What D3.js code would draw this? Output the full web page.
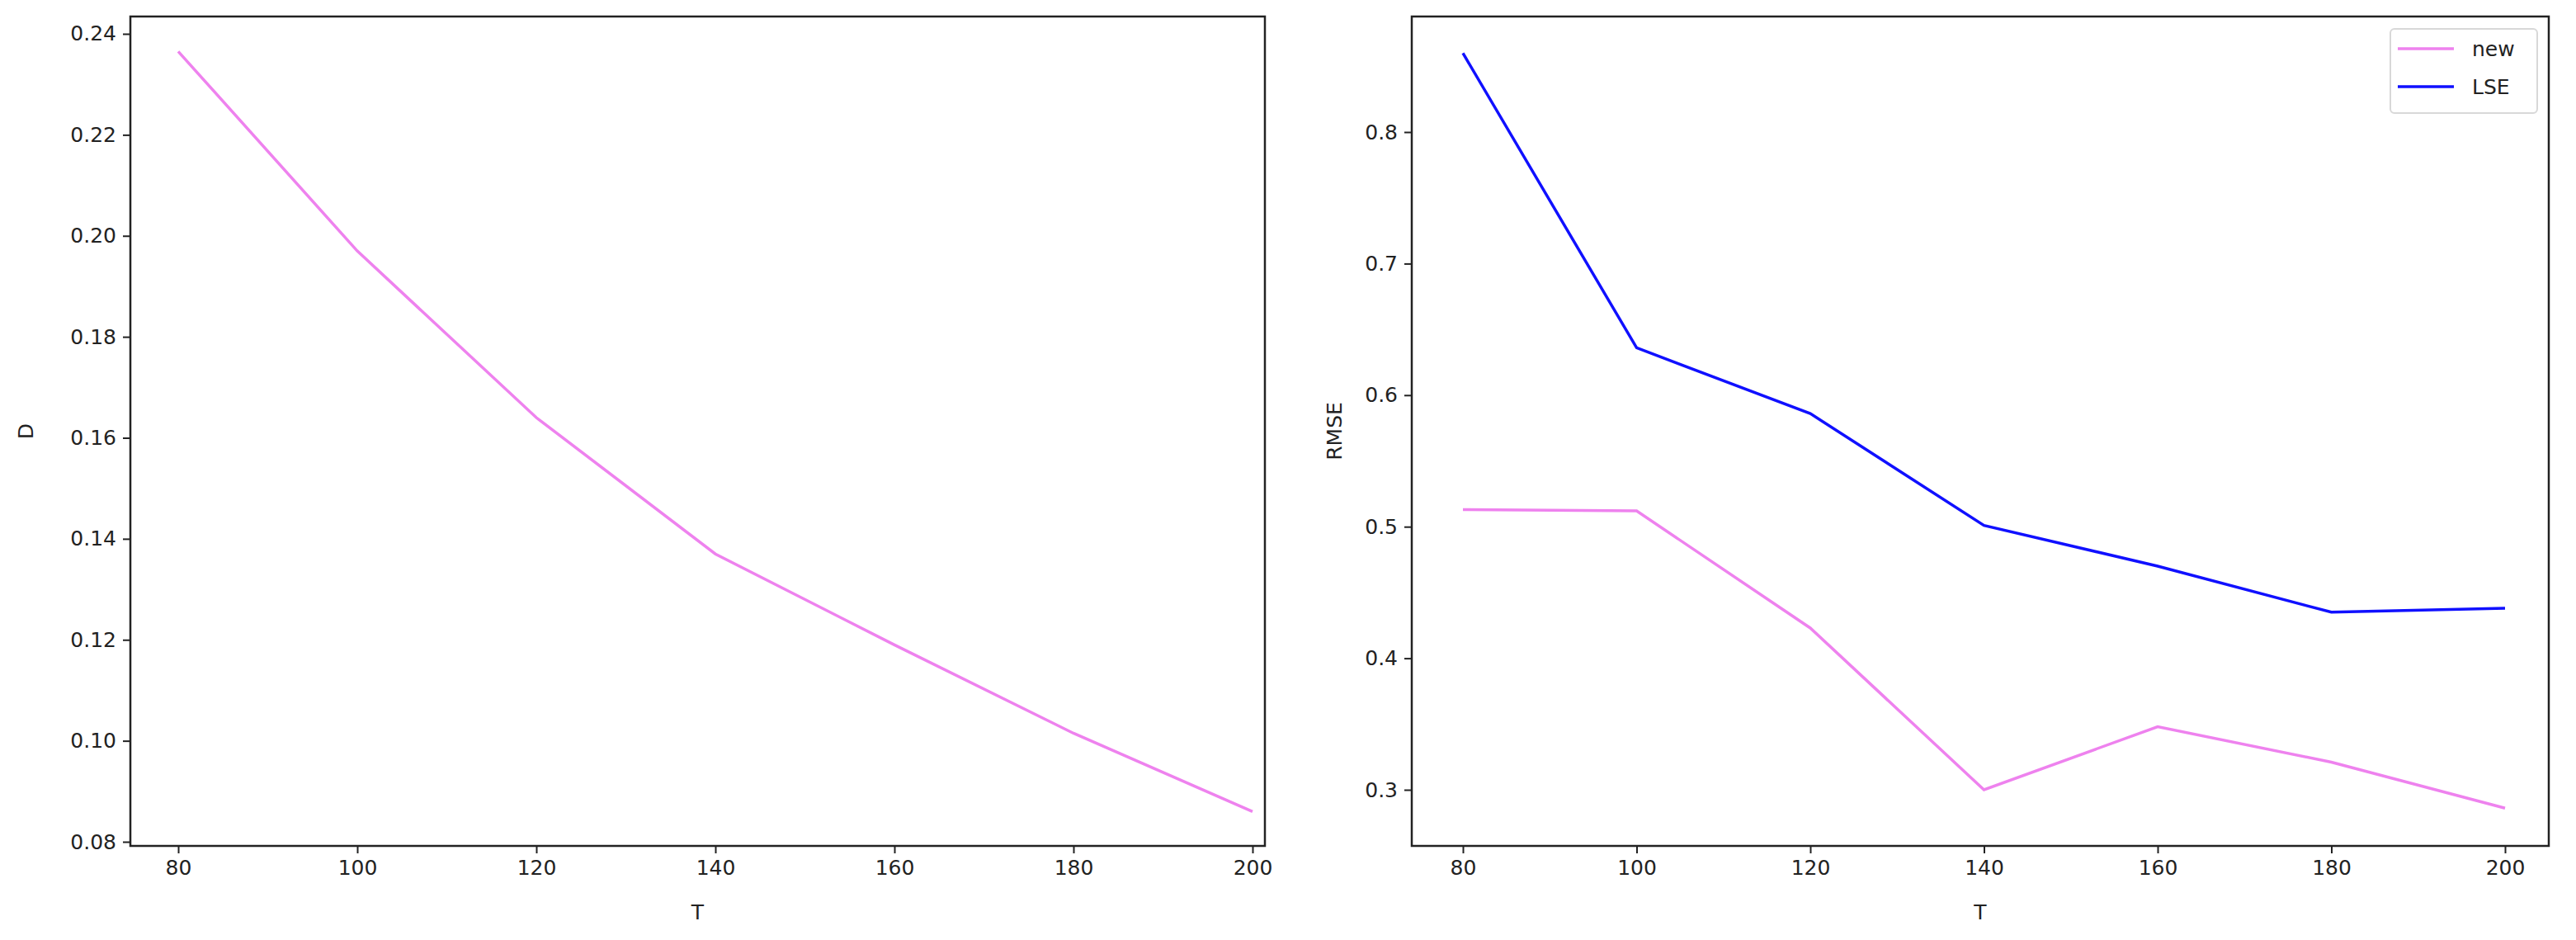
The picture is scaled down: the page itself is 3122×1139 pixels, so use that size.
<!DOCTYPE html><html><head><meta charset="utf-8"><script src="https://cdn.jsdelivr.net/npm/d3@7"></script>
<style>body{margin:0;background:#fff}text{font-family:"DejaVu Sans";fill:#222}</style></head><body>
<svg id="c" width="3122" height="1139"></svg>
<script>
const T=[80,100,120,140,160,180,200];
const D=[0.2365,0.197,0.164,0.137,0.119,0.1015,0.086];
const rmseNew=[0.513,0.512,0.423,0.300,0.348,0.321,0.286];
const rmseLSE=[0.860,0.636,0.586,0.501,0.470,0.435,0.438];
const dTicks=[0.08,0.10,0.12,0.14,0.16,0.18,0.20,0.22,0.24];
const rTicks=[0.3,0.4,0.5,0.6,0.7,0.8];
const svg=d3.select("#c");
function panel(x0,x1,xd,yd,ticks,fmt,ylab,ylx,series){
  const top=20,bot=1025;
  const x=d3.scaleLinear().domain(xd).range([x0,x1]);
  const y=d3.scaleLinear().domain(yd).range([bot,top]);
  const g=svg.append("g");
  const ax=g.append("g").attr("transform",`translate(0,${bot})`).call(d3.axisBottom(x).tickValues(T).tickSize(9).tickPadding(8));
  const ay=g.append("g").attr("transform",`translate(${x0},0)`).call(d3.axisLeft(y).tickValues(ticks).tickFormat(fmt).tickSize(9).tickPadding(8));
  [ax,ay].forEach(a=>{a.selectAll("text").attr("font-size",25).style("font-family","DejaVu Sans");a.selectAll("line").attr("stroke","#222").attr("stroke-width",2);a.select(".domain").remove();});
  series.forEach(s=>g.append("path").datum(s.v).attr("fill","none").attr("stroke",s.c).attr("stroke-width",3.5)
    .attr("d",d3.line().x((d,i)=>x(T[i])).y(d=>y(d))));
  g.append("rect").attr("x",x0).attr("y",top).attr("width",x1-x0).attr("height",bot-top).attr("fill","none").attr("stroke","#222").attr("stroke-width",2.5);
  g.append("text").attr("x",(x0+x1)/2).attr("y",1114).attr("text-anchor","middle").attr("font-size",25).text("T");
  g.append("text").attr("transform",`translate(${ylx},${(top+bot)/2}) rotate(-90)`).attr("text-anchor","middle").attr("font-size",25).text(ylab);
  return {x,y};
}
const lx=d3.scaleLinear().domain([216,1518]).range([80,200]);
panel(158,1533,[lx(158),lx(1533)],[0.08-5/6120,0.24+21/6120],dTicks,d3.format(".2f"),"D",40,[{v:D,c:"#ee82ee"}]);
const rx=d3.scaleLinear().domain([1773,3036]).range([80,200]);
panel(1711,3089,[rx(1711),rx(3089)],[0.3-68/1594,0.8+140/1594],rTicks,d3.format(".1f"),"RMSE",1626,[{v:rmseNew,c:"#ee82ee"},{v:rmseLSE,c:"#1010ff"}]);
const lg=svg.append("g");
lg.append("rect").attr("x",2897).attr("y",35).attr("width",178).attr("height",102).attr("rx",5).attr("fill","#fff").attr("stroke","#d8d8d8").attr("stroke-width",2);
[["new","#ee82ee"],["LSE","#1010ff"]].forEach((d,i)=>{
  lg.append("line").attr("x1",2906).attr("x2",2974).attr("y1",59+i*46).attr("y2",59+i*46).attr("stroke",d[1]).attr("stroke-width",3.5);
  lg.append("text").attr("x",2996).attr("y",68+i*46).attr("font-size",25).text(d[0]);
});
</script></body></html>
